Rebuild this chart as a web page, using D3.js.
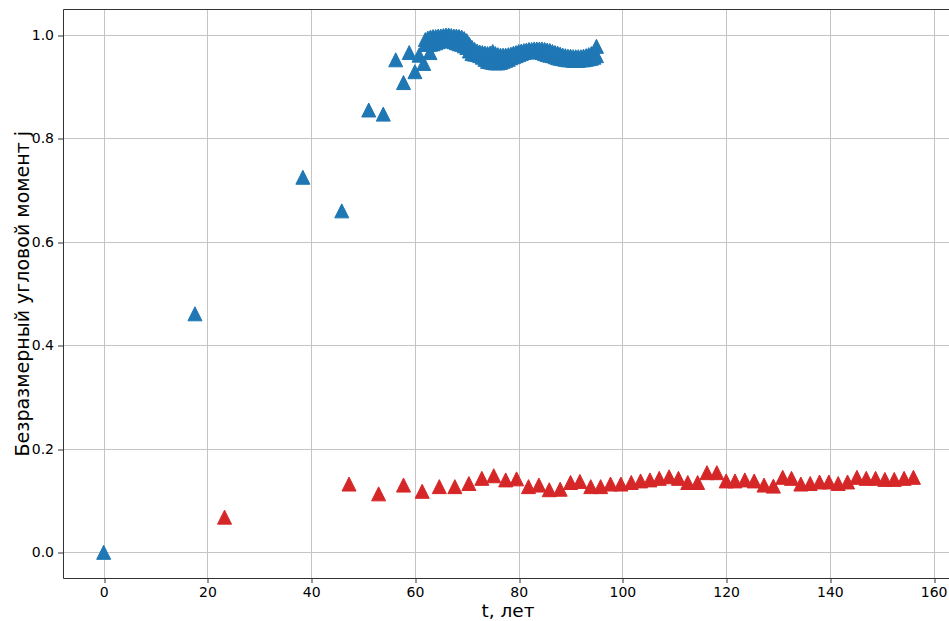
<!DOCTYPE html>
<html>
<head>
<meta charset="utf-8">
<script src="https://cdn.jsdelivr.net/npm/d3@7"></script>
<style>
  body { margin: 0; background: #fff; }
  svg { display: block; font-family: "DejaVu Sans", sans-serif; }
</style>
</head>
<body>
<div id="chart"></div>
<script>
// blue series: sparse points
const blueT = [0, 17.6, 38.4, 45.9, 51.1, 53.9, 56.3, 57.8, 58.9, 60.0, 60.8, 61.7, 62.9];
const blueJ = [0.0, 0.461, 0.725, 0.660, 0.855, 0.847, 0.952, 0.908, 0.966, 0.929, 0.961, 0.945, 0.966];

// blue dense band (t > 62): upper and lower edge of the cloud of markers
const bandT = [62, 62.5, 63, 63.5, 64, 64.5, 65, 65.5, 66, 66.5, 67, 67.5, 68, 68.5, 69, 69.5,
  70, 70.5, 71, 71.5, 72, 72.5, 73, 73.5, 74, 74.5, 75, 75.5, 76, 76.5, 77, 77.5, 78, 78.5, 79, 79.5,
  80, 80.5, 81, 81.5, 82, 82.5, 83, 83.5, 84, 84.5, 85, 85.5, 86, 86.5, 87, 87.5, 88, 88.5, 89, 89.5,
  90, 90.5, 91, 91.5, 92, 92.5, 93, 93.5, 94, 94.5, 95];
const bandHi = [0.991, 0.994, 0.996, 0.997, 0.997, 0.998, 0.998, 0.999, 1.000, 1.000, 0.999, 0.998, 0.998, 0.997, 0.996, 0.993,
  0.989, 0.982, 0.976, 0.972, 0.969, 0.967, 0.966, 0.965, 0.964, 0.965, 0.968, 0.964, 0.962, 0.961, 0.961, 0.961, 0.962, 0.963, 0.965, 0.966,
  0.968, 0.969, 0.970, 0.971, 0.972, 0.972, 0.973, 0.973, 0.973, 0.973, 0.972, 0.971, 0.970, 0.968, 0.966, 0.965, 0.963, 0.961, 0.960, 0.959,
  0.959, 0.958, 0.958, 0.958, 0.958, 0.959, 0.960, 0.962, 0.964, 0.966, 0.978];
const bandLo = [0.982, 0.982, 0.982, 0.983, 0.985, 0.987, 0.989, 0.991, 0.992, 0.991, 0.989, 0.987, 0.985, 0.983, 0.982, 0.979,
  0.976, 0.969, 0.964, 0.963, 0.962, 0.960, 0.957, 0.953, 0.949, 0.948, 0.947, 0.946, 0.946, 0.947, 0.949, 0.951, 0.953, 0.956, 0.958, 0.960,
  0.962, 0.964, 0.966, 0.967, 0.968, 0.969, 0.969, 0.968, 0.967, 0.966, 0.964, 0.962, 0.961, 0.960, 0.958, 0.956, 0.955, 0.954, 0.953, 0.952,
  0.952, 0.951, 0.951, 0.951, 0.952, 0.952, 0.953, 0.954, 0.955, 0.957, 0.960];

// red series
const redT = [23.3, 47.3, 53.0, 57.8, 61.4, 64.7, 67.7, 70.4, 72.9, 75.2, 77.5, 79.6, 81.9, 83.9, 85.9, 88.0,
  90.0, 91.8, 93.9, 95.8, 97.7, 99.7, 101.7, 103.5, 105.3, 107.1, 109.0, 110.8, 112.6, 114.5, 116.3, 118.2,
  120.0, 121.7, 123.6, 125.4, 127.3, 129.1, 130.9, 132.6, 134.4, 136.2, 138.0, 139.8, 141.6, 143.4, 145.2,
  147.0, 148.8, 150.6, 152.4, 154.3, 156.1];
const redJ = [0.068, 0.132, 0.113, 0.130, 0.118, 0.127, 0.127, 0.133, 0.143, 0.148, 0.140, 0.142, 0.127, 0.130, 0.121, 0.122,
  0.135, 0.137, 0.127, 0.127, 0.132, 0.132, 0.135, 0.138, 0.140, 0.143, 0.146, 0.143, 0.135, 0.135, 0.154, 0.154,
  0.138, 0.138, 0.140, 0.138, 0.130, 0.128, 0.145, 0.143, 0.132, 0.133, 0.136, 0.136, 0.133, 0.136, 0.145,
  0.143, 0.143, 0.141, 0.141, 0.143, 0.145];

const xTicks = [0, 20, 40, 60, 80, 100, 120, 140, 160];
const yTicks = [0.0, 0.2, 0.4, 0.6, 0.8, 1.0];

const width = 949, height = 621;
const plot = ({left: 63.2, right: 953.9, top: 9.1, bottom: 578.2});

const x = d3.scaleLinear([-7.8, 163.9], [plot.left, plot.right]);
const y = d3.scaleLinear([-0.05, 1.05], [plot.bottom, plot.top]);
const crisp = v => Math.round(v) + 0.5;

const svg = d3.select("#chart")
  .append("svg")
  .attr("width", width)
  .attr("height", height)
  .attr("viewBox", [0, 0, width, height]);

svg.append("rect")
  .attr("width", width).attr("height", height).attr("fill", "#fff");

svg.append("defs").append("clipPath").attr("id", "clip")
  .append("rect")
  .attr("x", plot.left).attr("y", plot.top)
  .attr("width", plot.right - plot.left).attr("height", plot.bottom - plot.top);

// grid
const grid = svg.append("g")
  .attr("stroke", "#c4c4c4")
  .attr("stroke-width", 1);
grid.selectAll("line.gx")
  .data(xTicks)
  .join("line")
    .attr("class", "gx")
    .attr("x1", d => crisp(x(d))).attr("x2", d => crisp(x(d)))
    .attr("y1", plot.top).attr("y2", plot.bottom);
grid.selectAll("line.gy")
  .data(yTicks)
  .join("line")
    .attr("class", "gy")
    .attr("y1", d => crisp(y(d))).attr("y2", d => crisp(y(d)))
    .attr("x1", plot.left).attr("x2", plot.right);

// markers
const tri = "M0,-7L7,7L-7,7Z";
const points = [];
blueT.forEach((t, i) => points.push({t, j: blueJ[i], c: "#1f77b4"}));
bandT.forEach((t, i) => {
  points.push({t, j: bandLo[i], c: "#1f77b4"});
  points.push({t, j: bandHi[i], c: "#1f77b4"});
});
redT.forEach((t, i) => points.push({t, j: redJ[i], c: "#d62728"}));

svg.append("g")
  .attr("clip-path", "url(#clip)")
  .selectAll("path")
  .data(points)
  .join("path")
    .attr("d", tri)
    .attr("transform", d => `translate(${x(d.t)},${y(d.j)})`)
    .attr("fill", d => d.c)
    .attr("stroke", d => d.c)
    .attr("stroke-width", 1)
    .attr("stroke-linejoin", "miter");

// axes
const xAxis = svg.append("g")
  .attr("transform", `translate(0,${crisp(plot.bottom) - 0.5})`)
  .call(d3.axisBottom(x).tickValues(xTicks).tickFormat(d3.format("d")).tickSize(5).tickPadding(4))
  .call(g => g.select(".domain").remove());
const yAxis = svg.append("g")
  .attr("transform", `translate(${crisp(plot.left) - 0.5},0)`)
  .call(d3.axisLeft(y).tickValues(yTicks).tickFormat(d3.format(".1f")).tickSize(5).tickPadding(4))
  .call(g => g.select(".domain").remove());
[xAxis, yAxis].forEach(g => {
  g.attr("font-family", null).attr("font-size", null);
  g.selectAll(".tick line").attr("stroke", "#333").attr("stroke-width", 1);
  g.selectAll(".tick text").attr("fill", "#000").style("font-size", "14px");
});
yAxis.selectAll(".tick line").attr("transform", d => `translate(0,${crisp(y(d)) - y(d)})`);
xAxis.selectAll(".tick line").attr("transform", d => `translate(${crisp(x(d)) - x(d)},0)`);

// spines (right one falls outside the picture)
svg.append("g")
  .attr("stroke", "#333")
  .attr("stroke-width", 1)
  .attr("fill", "none")
  .selectAll("line")
  .data([
    [plot.left, plot.top, plot.left, plot.bottom],
    [plot.left, plot.bottom, plot.right, plot.bottom],
    [plot.left, plot.top, plot.right, plot.top]
  ])
  .join("line")
    .attr("x1", d => crisp(d[0])).attr("y1", d => crisp(d[1]))
    .attr("x2", d => crisp(d[2])).attr("y2", d => crisp(d[3]));

// labels
svg.append("text")
  .attr("x", 508)
  .attr("y", 617)
  .attr("text-anchor", "middle")
  .style("font-size", "18.5px")
  .text("t, лет");

svg.append("text")
  .attr("transform", `translate(29,${(plot.top + plot.bottom) / 2}) rotate(-90)`)
  .attr("text-anchor", "middle")
  .style("font-size", "19px")
  .text("Безразмерный угловой момент j");
</script>
</body>
</html>
